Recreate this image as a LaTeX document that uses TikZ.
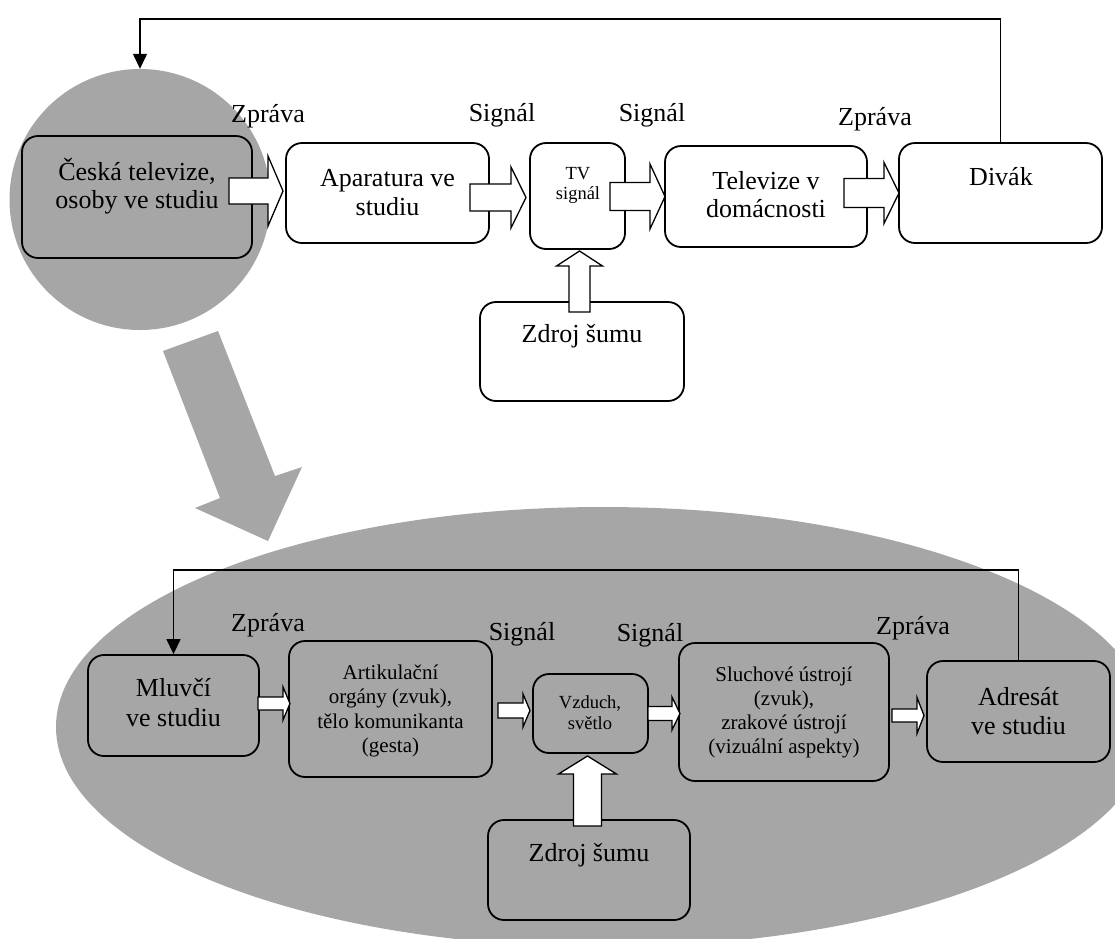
\documentclass[tikz,border=0pt]{standalone}
\usepackage{fontspec}
\setmainfont{Liberation Serif}
\usetikzlibrary{arrows.meta,shapes.geometric}
\definecolor{bggray}{RGB}{166,166,166}
\newcommand{\blkright}[6]{% x0, xbase, xtip, yc, half body, half head
  \draw[barr] (#1,{#4-#5}) -- (#2,{#4-#5}) -- (#2,{#4-#6}) -- (#3,#4) -- (#2,{#4+#6}) -- (#2,{#4+#5}) -- (#1,{#4+#5}) -- cycle;}
\newcommand{\blkup}[6]{% xc, ybottom, ybase, ytip, half body, half head
  \draw[barr] ({#1-#5},#2) -- ({#1-#5},#3) -- ({#1-#6},#3) -- (#1,#4) -- ({#1+#6},#3) -- ({#1+#5},#3) -- ({#1+#5},#2) -- cycle;}
\tikzset{
  box/.style={rectangle, draw, line width=1.8pt, rounded corners=16pt, fill=white, inner sep=0pt},
  gbox/.style={box, fill=bggray},
  barr/.style={draw, fill=white, line width=1.3pt, line join=miter},
  fb/.style={line width=1.3pt, -{Triangle[length=15pt,width=14pt]}},
  big/.style={font=\fontsize{26}{29}\selectfont, inner sep=0pt, anchor=base},
  mid/.style={font=\fontsize{21}{24}\selectfont, inner sep=0pt, anchor=base},
  sml/.style={font=\fontsize{18.5}{21}\selectfont, inner sep=0pt, anchor=base},
}
\begin{document}
\begin{tikzpicture}[x=1pt,y=-1pt]
\clip (0,0) rectangle (1115,938);
\fill[white] (0,0) rectangle (1115,938);

% background shapes
\node[ellipse, fill=bggray, minimum width=1094pt, minimum height=440pt, inner sep=0pt] (ell) at (603,727) {};
\node[circle, fill=bggray, minimum size=261pt, inner sep=0pt] (circ) at (140,199.5) {};
\fill[bggray] (163,351) -- (218,331) -- (275,476) -- (302,467) -- (268,541) -- (195,508) -- (220,498) -- cycle;

% top boxes
\node[gbox, minimum width=230pt, minimum height=122pt] (ceska) at (137,197) {};
\node[box, minimum width=203pt, minimum height=100pt] (apar) at (387.5,193) {};
\node[box, minimum width=95pt, minimum height=106pt] (tv) at (577.5,196) {};
\node[box, minimum width=202pt, minimum height=101pt] (telev) at (766,196.5) {};
\node[box, minimum width=203pt, minimum height=100pt] (divak) at (1000.5,193) {};
\node[box, minimum width=204pt, minimum height=99pt] (zdroj1) at (582,351.5) {};

% bottom boxes
\node[gbox, minimum width=171pt, minimum height=101pt] (mluvci) at (173.5,705.5) {};
\node[gbox, minimum width=203pt, minimum height=136pt] (artik) at (390.5,709) {};
\node[gbox, minimum width=115pt, minimum height=79pt] (vzduch) at (590.5,713.5) {};
\node[gbox, minimum width=210pt, minimum height=138pt] (sluch) at (784,712) {};
\node[gbox, minimum width=183pt, minimum height=101pt] (adres) at (1018.5,711.5) {};
\node[gbox, minimum width=202pt, minimum height=100pt] (zdroj2) at (589,870) {};

% feedback connectors
\coordinate (fbtop) at (140,19);
\draw[fb] (divak.north) |- (fbtop) -- (circ.north);
\coordinate (fbbot) at (173.5,570);
\draw[fb] (adres.north) |- (fbbot) -- (mluvci.north);

% block arrows top
\blkright{229}{268}{283}{191}{13}{35}
\blkright{470}{511}{526}{197.5}{13.5}{30.5}
\blkright{610}{650}{665}{196.5}{14}{32.5}
\blkright{844}{884}{899}{193}{14.5}{30.5}
\blkup{579.5}{312}{266}{251}{10.5}{23}

% block arrows bottom
\blkright{258}{283}{290}{703.5}{6.5}{16.5}
\blkright{498}{523}{530}{710.5}{7.5}{16.5}
\blkright{648}{672}{680}{713.5}{7}{16.5}
\blkright{892}{917}{924}{715.5}{6.5}{18}
\blkup{587.5}{826}{774}{756}{14}{29}

% labels top
\node[big] (zpr1) at (268,122) {Zpráva};
\node[big] (sig1) at (502,121) {Signál};
\node[big] (sig2) at (652,121) {Signál};
\node[big] (zpr2) at (875,125) {Zpráva};

\node[big] (ceskaA) at (137,180) {Česká televize,};
\node[big] (ceskaB) at (137,208) {osoby ve studiu};
\node[big] (aparA) at (387.5,186) {Aparatura ve};
\node[big] (aparB) at (387.5,215) {studiu};
\node[sml] (tvA) at (578,179) {TV};
\node[sml] (tvB) at (578,199) {signál};
\node[big] (televA) at (766,189) {Televize v};
\node[big] (televB) at (766,217) {domácnosti};
\node[big] (divakA) at (1001,185) {Divák};
\node[big] (zdroj1A) at (582,342) {Zdroj šumu};

% labels bottom
\node[big] (zpr3) at (268,631) {Zpráva};
\node[big] (sig3) at (522,640) {Signál};
\node[big] (sig4) at (650,641) {Signál};
\node[big] (zpr4) at (913,634) {Zpráva};

\node[big] (mluvciA) at (173.5,696) {Mluvčí};
\node[big] (mluvciB) at (173.5,726) {ve studiu};
\node[mid] (artikA) at (390.5,679) {Artikulační};
\node[mid] (artikB) at (390.5,703.5) {orgány (zvuk),};
\node[mid] (artikC) at (390.5,728) {tělo komunikanta};
\node[mid] (artikD) at (390.5,752) {(gesta)};
\node[sml] (vzduchA) at (590,708) {Vzduch,};
\node[sml] (vzduchB) at (590,729) {světlo};
\node[mid] (sluchA) at (784,681) {Sluchové ústrojí};
\node[mid] (sluchB) at (784,705) {(zvuk),};
\node[mid] (sluchC) at (784,729) {zrakové ústrojí};
\node[mid] (sluchD) at (784,753) {(vizuální aspekty)};
\node[big] (adresA) at (1018.5,705) {Adresát};
\node[big] (adresB) at (1018.5,734) {ve studiu};
\node[big] (zdroj2A) at (589,861) {Zdroj šumu};
\end{tikzpicture}
\end{document}
